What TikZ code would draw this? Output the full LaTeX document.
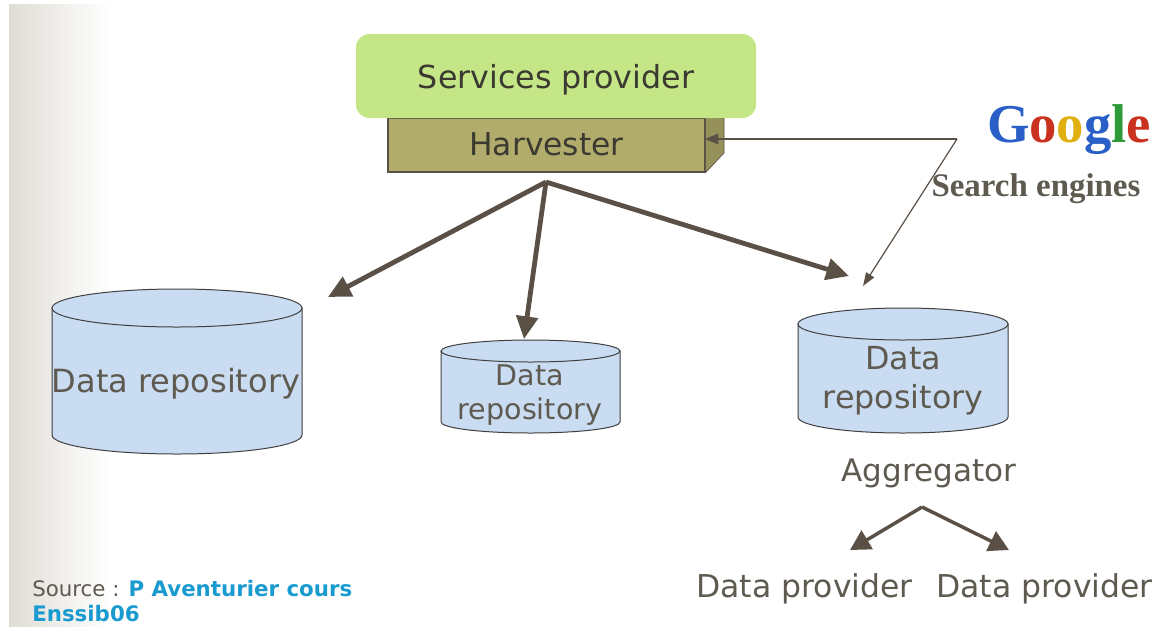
\documentclass[tikz,border=0pt]{standalone}
\usepackage{fontspec}
\setmainfont{DejaVu Sans}
\newfontfamily\serifb{Liberation Serif}
\usetikzlibrary{arrows.meta}
\definecolor{ink}{HTML}{5A5045}
\definecolor{txt}{HTML}{3A3A30}
\definecolor{txtg}{HTML}{5E5A50}
\definecolor{repo}{HTML}{C9DCF2}
\definecolor{grn}{HTML}{C5E687}
\definecolor{olive}{HTML}{B2AC6C}
\definecolor{olived}{HTML}{96905A}
\definecolor{blu}{HTML}{1A9BD0}
\definecolor{gblue}{HTML}{2A5FC8}
\definecolor{gred}{HTML}{C8321E}
\definecolor{gyel}{HTML}{E0B010}
\definecolor{ggrn}{HTML}{2E9A3A}
\definecolor{bandc}{HTML}{E0DDD6}
\tikzset{
  x=0.75pt,y=-0.75pt,
  thick arrow/.style={draw=ink,line width=3.6pt,-{Triangle[length=17pt,width=16pt]},line join=round},
  small arrow/.style={draw=ink,line width=2.6pt,-{Triangle[length=15pt,width=16pt]},line join=round},
  thin link/.style={draw=ink,line width=0.9pt},
  repo shape/.style={draw=black!75,line width=0.75pt,fill=repo},
  lab/.style={inner sep=0pt,align=center,text=txtg},
}
\begin{document}
\begin{tikzpicture}
\useasboundingbox (0,0) rectangle (1157,626);
\fill[white] (0,0) rectangle (1157,626);
\shade[left color=bandc,right color=white] (9,4) rectangle (110,626);

% harvester
\node[draw=ink,line width=0.9pt,fill=olive,minimum width=237.75pt,minimum height=40.5pt,inner sep=0pt,font=\fontsize{23.5}{26}\selectfont,text=txt] (harv) at (546.5,145) {\raisebox{1pt}{Harvester}};
\fill[olived,draw=ink,line width=0.5pt] (harv.north east) -- (724,118) -- (724,153) -- (harv.south east) -- cycle;
% provider
\node[fill=grn,rounded corners=10pt,minimum width=300pt,minimum height=63pt,inner sep=0pt,font=\fontsize{23.8}{26}\selectfont,text=txt] (serv) at (556,76) {\raisebox{0pt}[20pt][2pt]{Services provider}};

% repositories
\path[repo shape] (52,308) -- (52,435) arc[start angle=180,end angle=0,x radius=125,y radius=19] -- (302,308) -- cycle;
\draw[repo shape] (177,308) ellipse[x radius=125,y radius=19];
\path[repo shape] (441,351) -- (441,422) arc[start angle=180,end angle=0,x radius=89.5,y radius=11] -- (620,351) -- cycle;
\draw[repo shape] (530.5,351) ellipse[x radius=89.5,y radius=11];
\path[repo shape] (798,324) -- (798,417) arc[start angle=180,end angle=0,x radius=105,y radius=16] -- (1008,324) -- cycle;
\draw[repo shape] (903,324) ellipse[x radius=105,y radius=16];

\node[lab,font=\fontsize{24}{26}\selectfont] (r1) at (176,384) {Data repository};
\node[lab,font=\fontsize{21.4}{25.5}\selectfont] (r2) at (530,395) {Data\\repository};
\node[lab,font=\fontsize{23.8}{29}\selectfont] (r3) at (903,381) {Data\\repository};
\node[lab,font=\fontsize{23.3}{26}\selectfont] (agg) at (929,473) {Aggregator};
\node[lab,font=\fontsize{23.6}{26}\selectfont] (p1) at (804.5,589) {Data provider};
\node[lab,font=\fontsize{23.6}{26}\selectfont] (p2) at (1044.5,589) {Data provider};

% google and search engines
\node[inner sep=0pt,font=\serifb\bfseries\fontsize{41}{44}\selectfont] (goog) at (1069,130) {\textcolor{gblue}{G}\textcolor{gred}{o}\textcolor{gyel}{o}\textcolor{gblue}{g}\textcolor{ggrn}{l}\textcolor{gred}{e}};
\node[inner sep=0pt,font=\serifb\bfseries\fontsize{24.7}{26}\selectfont,text=txtg] (se) at (1036,189) {Search engines};

% source
\node[inner sep=0pt,anchor=west,font=\fontsize{16}{18}\selectfont,text=txtg] (src) at (32,589) {Source : \textcolor{blu}{\bfseries P Aventurier cours}};
\node[inner sep=0pt,anchor=west,font=\bfseries\fontsize{16}{18}\selectfont,text=blu] (src2) at (32,614) {Enssib06};

% connectors
\coordinate (apex) at (546,182);
\coordinate (t1) at (328,297);
\coordinate (t2) at (524,339);
\coordinate (t3) at (849,276);
\draw[thick arrow] (apex) -- (t1);
\draw[thick arrow] (apex) -- (t2);
\draw[thick arrow] (apex) -- (t3);

\coordinate (junc) at (957,139);
\coordinate (hs) at (705,139);
\coordinate (t4) at (863,286);
\draw[thin link,-{Triangle[length=10pt,width=8pt]}] (junc) -- (hs);
\draw[thin link,-{Triangle[length=10pt,width=7pt]}] (junc) -- (t4);

\coordinate (aapex) at (922,507);
\coordinate (a1) at (850,550);
\coordinate (a2) at (1009,550);
\draw[small arrow] (aapex) -- (a1);
\draw[small arrow] (aapex) -- (a2);
\end{tikzpicture}
\end{document}
